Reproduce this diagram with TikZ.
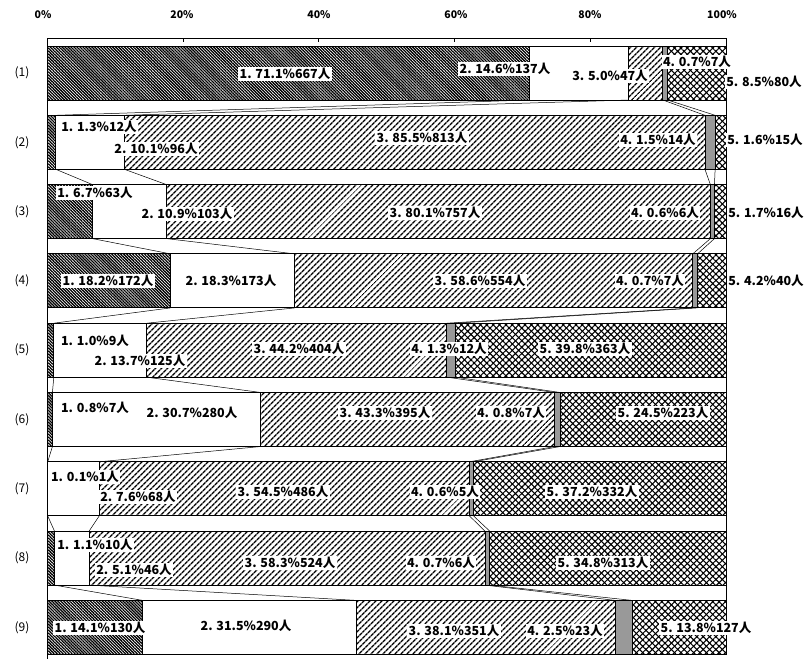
\documentclass[tikz,border=0pt]{standalone}
\usepackage{fontspec}
\newfontfamily\cjk{Noto Sans CJK JP}
\usetikzlibrary{patterns.meta}
\begin{document}
\begin{tikzpicture}[x=1pt,y=-1pt,
  lbl/.style={font=\cjk\bfseries\fontsize{12.5}{13}\selectfont, fill=white, inner sep=1.5pt},
  rowlbl/.style={font=\cjk\fontsize{12}{13}\selectfont},
  axlbl/.style={font=\cjk\bfseries\fontsize{10.5}{12}\selectfont},
  conn/.style={line width=0.5pt},
  segline/.style={line width=0.9pt},
  pat1/.style={pattern={Lines[angle=-45,distance=2.1pt,line width=1.3pt]}, pattern color=black},
  pat3/.style={pattern={Lines[angle=45,distance=4pt,line width=1.5pt]}, pattern color=black},
  pat5a/.style={pattern={Lines[angle=45,distance=4.5pt,line width=1.1pt]}, pattern color=black},
  pat5b/.style={pattern={Lines[angle=-45,distance=4.5pt,line width=1.1pt]}, pattern color=black},
  cat4/.style={fill=black!40},
]
\useasboundingbox (0,0) rectangle (804,659);

% frame and axis
\draw[line width=0.8pt] (47,659) -- (47,38) -- (726,38) -- (726,655);
\foreach \p in {0,20,40,60,80,100}{
  \draw[line width=0.6pt] ({47+6.79*\p},38) -- ({47+6.79*\p},42);
}
\node[axlbl] (ax0) at (43,15) {0\%};
\node[axlbl] (ax20) at (182,15) {20\%};
\node[axlbl] (ax40) at (319,15) {40\%};
\node[axlbl] (ax60) at (456,15) {60\%};
\node[axlbl] (ax80) at (590,15) {80\%};
\node[axlbl] (ax100) at (722,15) {100\%};

% bars
\foreach \i/\p/\q/\r/\s in {1/71.1/14.6/5.0/0.7, 2/1.3/10.1/85.5/1.5, 3/6.7/10.9/80.1/0.6,
  4/18.2/18.3/58.6/0.7, 5/1.0/13.7/44.2/1.3, 6/0.8/30.7/43.3/0.8, 7/0.1/7.6/54.5/0.6,
  8/1.1/5.1/58.3/0.7, 9/14.1/31.5/38.1/2.5}{
  \pgfmathsetmacro\yt{46+69.3*(\i-1)}
  \pgfmathsetmacro\yb{\yt+54}
  \pgfmathsetmacro\xa{47+6.79*\p}
  \pgfmathsetmacro\xb{47+6.79*(\p+\q)}
  \pgfmathsetmacro\xc{47+6.79*(\p+\q+\r)}
  \pgfmathsetmacro\xd{47+6.79*(\p+\q+\r+\s)}
  \path[pat1] (47,\yt) rectangle (\xa,\yb);
  \path[pat3] (\xb,\yt) rectangle (\xc,\yb);
  \fill[cat4] (\xc,\yt) rectangle (\xd,\yb);
  \path[pat5a] (\xd,\yt) rectangle (726,\yb);
  \path[pat5b] (\xd,\yt) rectangle (726,\yb);
  \draw[segline] (47,\yt) rectangle (726,\yb);
  \foreach \x in {\xa,\xb,\xc,\xd} \draw[segline] (\x,\yt) -- (\x,\yb);
  \coordinate (t\i-1) at (\xa,\yt); \coordinate (b\i-1) at (\xa,\yb);
  \coordinate (t\i-2) at (\xb,\yt); \coordinate (b\i-2) at (\xb,\yb);
  \coordinate (t\i-3) at (\xc,\yt); \coordinate (b\i-3) at (\xc,\yb);
  \coordinate (t\i-4) at (\xd,\yt); \coordinate (b\i-4) at (\xd,\yb);
  \node[rowlbl] (r\i) at (22,{\yt+27}) {(\i)};
}

% series lines
\foreach \i in {1,...,8}{
  \pgfmathtruncatemacro\j{\i+1}
  \foreach \k in {1,...,4}{ \draw[conn] (b\i-\k) -- (t\j-\k); }
}

% labels
\node[lbl] (l1-1) at (285,74) {1. 71.1\%667人};
\node[lbl] (l1-2) at (505,69) {2. 14.6\%137人};
\node[lbl] (l1-3) at (610,76) {3. 5.0\%47人};
\node[lbl] (l1-4) at (697,62) {4. 0.7\%7人};
\node[lbl] (l1-5) at (764,82) {5. 8.5\%80人};

\node[lbl] (l2-1) at (99,127) {1. 1.3\%12人};
\node[lbl] (l2-2) at (156,149) {2. 10.1\%96人};
\node[lbl] (l2-3) at (422,138) {3. 85.5\%813人};
\node[lbl] (l2-4) at (658,140) {4. 1.5\%14人};
\node[lbl] (l2-5) at (765,140) {5. 1.6\%15人};

\node[lbl] (l3-1) at (95,193) {1. 6.7\%63人};
\node[lbl] (l3-2) at (187,214) {2. 10.9\%103人};
\node[lbl] (l3-3) at (435,213) {3. 80.1\%757人};
\node[lbl] (l3-4) at (665,213) {4. 0.6\%6人};
\node[lbl] (l3-5) at (766,213) {5. 1.7\%16人};

\node[lbl] (l4-1) at (108,281) {1. 18.2\%172人};
\node[lbl] (l4-2) at (231,281) {2. 18.3\%173人};
\node[lbl] (l4-3) at (480,281) {3. 58.6\%554人};
\node[lbl] (l4-4) at (650,281) {4. 0.7\%7人};
\node[lbl] (l4-5) at (766,281) {5. 4.2\%40人};

\node[lbl] (l5-1) at (95,341) {1. 1.0\%9人};
\node[lbl] (l5-2) at (140,361) {2. 13.7\%125人};
\node[lbl] (l5-3) at (299,349) {3. 44.2\%404人};
\node[lbl] (l5-4) at (449,349) {4. 1.3\%12人};
\node[lbl] (l5-5) at (585,349) {5. 39.8\%363人};

\node[lbl] (l6-1) at (95,408) {1. 0.8\%7人};
\node[lbl] (l6-2) at (192,413) {2. 30.7\%280人};
\node[lbl] (l6-3) at (385,413) {3. 43.3\%395人};
\node[lbl] (l6-4) at (511,413) {4. 0.8\%7人};
\node[lbl] (l6-5) at (663,413) {5. 24.5\%223人};

\node[lbl] (l7-1) at (85,477) {1. 0.1\%1人};
\node[lbl] (l7-2) at (138,497) {2. 7.6\%68人};
\node[lbl] (l7-3) at (283,492) {3. 54.5\%486人};
\node[lbl] (l7-4) at (445,492) {4. 0.6\%5人};
\node[lbl] (l7-5) at (592,492) {5. 37.2\%332人};

\node[lbl] (l8-1) at (95,545) {1. 1.1\%10人};
\node[lbl] (l8-2) at (134,570) {2. 5.1\%46人};
\node[lbl] (l8-3) at (290,563) {3. 58.3\%524人};
\node[lbl] (l8-4) at (441,563) {4. 0.7\%6人};
\node[lbl] (l8-5) at (603,563) {5. 34.8\%313人};

\node[lbl] (l9-1) at (100,628) {1. 14.1\%130人};
\node[lbl] (l9-2) at (246,626) {2. 31.5\%290人};
\node[lbl] (l9-3) at (454,631) {3. 38.1\%351人};
\node[lbl] (l9-4) at (565,631) {4. 2.5\%23人};
\node[lbl] (l9-5) at (706,628) {5. 13.8\%127人};
\end{tikzpicture}
\end{document}
